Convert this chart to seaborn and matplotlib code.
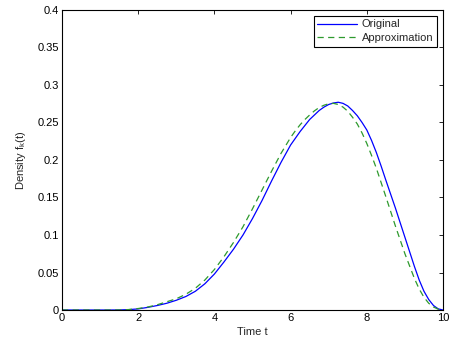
import matplotlib
matplotlib.use("Agg")
import matplotlib.pyplot as plt
import seaborn as sns
import pandas as pd
from matplotlib.ticker import FuncFormatter

t = [0.0, 0.25, 0.5, 0.75, 1.0, 1.25, 1.5, 1.75, 2.0, 2.25, 2.5, 2.75, 3.0, 3.25,
     3.5, 3.75, 4.0, 4.25, 4.5, 4.75, 5.0, 5.25, 5.5, 5.75,
     6.0, 6.125, 6.25, 6.375, 6.5, 6.625, 6.75, 6.875,
     7.0, 7.125, 7.25, 7.375, 7.5, 7.625, 7.75, 7.875,
     8.0, 8.125, 8.25, 8.375, 8.5, 8.75, 9.0,
     9.25, 9.375, 9.5, 9.625, 9.75, 9.875, 10.0]

original = [0, 0, 0, 0, 0, 0, 0.0001, 0.0005, 0.0015, 0.0035, 0.006, 0.009, 0.013, 0.018,
            0.025, 0.035, 0.048, 0.064, 0.081, 0.100, 0.122, 0.146, 0.172, 0.197,
            0.220, 0.229, 0.238, 0.246, 0.254, 0.260, 0.266, 0.2705,
            0.274, 0.276, 0.277, 0.2755, 0.272, 0.266, 0.259, 0.250,
            0.240, 0.226, 0.210, 0.192, 0.173, 0.136, 0.097,
            0.058, 0.040, 0.025, 0.014, 0.006, 0.0015, 0.0]

approximation = [0, 0, 0, 0, 0, 0, 0.0001, 0.0006, 0.002, 0.004, 0.007, 0.011, 0.015, 0.021,
                 0.029, 0.040, 0.054, 0.071, 0.090, 0.111, 0.135, 0.160, 0.185, 0.209,
                 0.230, 0.239, 0.247, 0.254, 0.260, 0.2655, 0.270, 0.273,
                 0.275, 0.2755, 0.274, 0.2705, 0.265, 0.257, 0.248, 0.236,
                 0.222, 0.206, 0.189, 0.170, 0.151, 0.112, 0.075,
                 0.042, 0.028, 0.017, 0.009, 0.004, 0.001, 0.0]

series_names = ["Original", "Approximation"]
x_ticks = [0, 2, 4, 6, 8, 10]
y_ticks = [0, 0.05, 0.1, 0.15, 0.2, 0.25, 0.3, 0.35, 0.4]

sns.set_style("white")
plt.rcParams["font.family"] = ["Liberation Sans", "DejaVu Sans"]
plt.rcParams["mathtext.fontset"] = "custom"
plt.rcParams["mathtext.rm"] = "Liberation Sans"
plt.rcParams["mathtext.it"] = "Liberation Sans"

df_o = pd.DataFrame({"t": t, "v": original})
df_a = pd.DataFrame({"t": t, "v": approximation})

fig = plt.figure(figsize=(4.54, 3.44), dpi=100)
ax = fig.add_axes([0.1366, 0.0988, 0.8392, 0.8722])

sns.lineplot(data=df_o, x="t", y="v", ax=ax, color="#0000ff", linewidth=0.9,
             label=series_names[0])
sns.lineplot(data=df_a, x="t", y="v", ax=ax, color="#2e9a2e", linewidth=0.9,
             linestyle=(0, (5, 3.5)), label=series_names[1])

ax.set_xlim(0, 10)
ax.set_ylim(0, 0.4)
ax.set_xticks(x_ticks)
ax.set_yticks(y_ticks)
ax.yaxis.set_major_formatter(FuncFormatter(lambda v, p: ("%g" % round(v, 3))))
ax.tick_params(direction="in", length=3, width=0.6, labelsize=8, colors="black",
               top=True, right=True, pad=2)
for s in ax.spines.values():
    s.set_visible(True)
    s.set_color("black")
    s.set_linewidth(0.8)

ax.set_xlabel("Time t", fontsize=8, labelpad=3)
ax.set_ylabel("Density f$_k$(t)", fontsize=8, labelpad=7)

leg = ax.legend(loc="upper right", fontsize=8, frameon=True, fancybox=False,
                handlelength=3.6, handletextpad=0.4, borderpad=0.35,
                labelspacing=0.3, borderaxespad=0.5, framealpha=1)
leg.get_frame().set_edgecolor("black")
leg.get_frame().set_linewidth(0.8)

fig.savefig("out.png", dpi=100)
